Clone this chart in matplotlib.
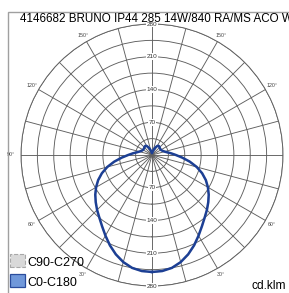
import numpy as np
import matplotlib.pyplot as plt
from matplotlib.patches import Rectangle

# --------- DADOS ----------
titulo = "4146682 BRUNO IP44 285 14W/840 RA/MS ACO WH"
gamma = np.arange(0, 181, 5)  # graus, 0 = para baixo
# intensidade C0-C180 (cd/klm)
c0_c180 = [250, 249, 245, 237, 226, 213, 199, 186, 175, 166, 157, 148, 138,
           127, 114, 99, 82, 65, 51, 41, 33, 28, 25, 23, 22, 22, 22, 23, 24,
           24, 22, 18, 14, 10, 7, 5, 4]
# intensidade C90-C270 (praticamente coincide com C0-C180)
c90_c270 = [250, 249, 245, 237, 226, 213, 199, 186, 175, 166, 157, 148, 138,
            127, 114, 99, 82, 65, 51, 41, 33, 28, 25, 23, 22, 22, 22, 23, 24,
            24, 22, 18, 14, 10, 7, 5, 4]
aneis = [35, 70, 105, 140, 175, 210, 245, 280]
aneis_rotulo = [70, 140, 210, 280]
angulos_rotulo = [30, 60, 90, 120, 150]
rmax = 280

# --------- FIGURA ----------
W, H = 289, 293
fig = plt.figure(figsize=(W / 100, H / 100), dpi=100)
fig.patch.set_facecolor("white")
plt.rcParams["font.family"] = ["Liberation Sans", "DejaVu Sans"]

# centro em (152,155) px, raio 131 px
cx, cy, R = 152, 155, 131
ax = fig.add_axes([(cx - R) / W, (H - cy - R) / H, 2 * R / W, 2 * R / H],
                  projection="polar")
ax.set_theta_zero_location("S")
ax.set_ylim(0, rmax)
ax.set_rticks(aneis)
ax.set_yticklabels([])
ax.set_thetagrids(np.arange(0, 360, 15), labels=[""] * 24)
ax.grid(True, color="#5f5f5f", linewidth=0.65)
ax.spines["polar"].set_color("#5f5f5f")
ax.spines["polar"].set_linewidth(0.65)
ax.tick_params(length=0)

# curvas (metade direita e esquerda)
g = np.radians(gamma)
for dados, cor, ls, lw, z in [(c90_c270, "#c8c8c8", "--", 1.2, 3),
                              (c0_c180, "#1c3f94", "-", 1.8, 4)]:
    th = np.concatenate([g, 2 * np.pi - g[::-1]])
    rr = np.concatenate([dados, dados[::-1]])
    ax.plot(th, rr, color=cor, linestyle=ls, linewidth=lw, zorder=z)

# rótulos radiais
for r in aneis_rotulo:
    for th in (0, np.pi):
        ax.text(th, r, str(r), fontsize=4.6, ha="center", va="center",
                color="#333333", zorder=5,
                bbox=dict(facecolor="white", edgecolor="none", pad=0.6))

# rótulos angulares
for a in angulos_rotulo:
    rr = 302 if a == 90 else 296
    for th in (np.radians(a), np.radians(360 - a)):
        ax.text(th, rr, f"{a}°", fontsize=3.8, ha="center", va="center",
                color="#444444", clip_on=False)

# moldura cinza
fig.patches.append(Rectangle((8 / W, -0.1), 1.1, 1 - 12 / H + 0.1,
                             transform=fig.transFigure, fill=False,
                             edgecolor="#a0a0a0", linewidth=1.0, zorder=0))

# título
fig.text(20 / W, 1 - 22 / H, titulo, fontsize=8.4, ha="left",
         va="baseline", color="black", zorder=10)

# legenda
fig.patches.append(Rectangle((10 / W, 1 - 267 / H), 15 / W, 13 / H,
                             transform=fig.transFigure, facecolor="#d9d9d9",
                             edgecolor="#a8a8a8", linestyle="--",
                             linewidth=0.8, zorder=6))
fig.patches.append(Rectangle((10 / W, 1 - 287 / H), 15 / W, 13 / H,
                             transform=fig.transFigure, facecolor="#7098da",
                             edgecolor="#2a4c9c", linewidth=0.9, zorder=6))
fig.text(27 / W, 1 - 266 / H, "C90-C270", fontsize=9, ha="left",
         va="baseline", color="black")
fig.text(27 / W, 1 - 286 / H, "C0-C180", fontsize=9, ha="left",
         va="baseline", color="black")
fig.text(251 / W, 1 - 289 / H, "cd.klm", fontsize=8.6, ha="left",
         va="baseline", color="black")

plt.savefig("out.png", dpi=100, facecolor=fig.get_facecolor())
